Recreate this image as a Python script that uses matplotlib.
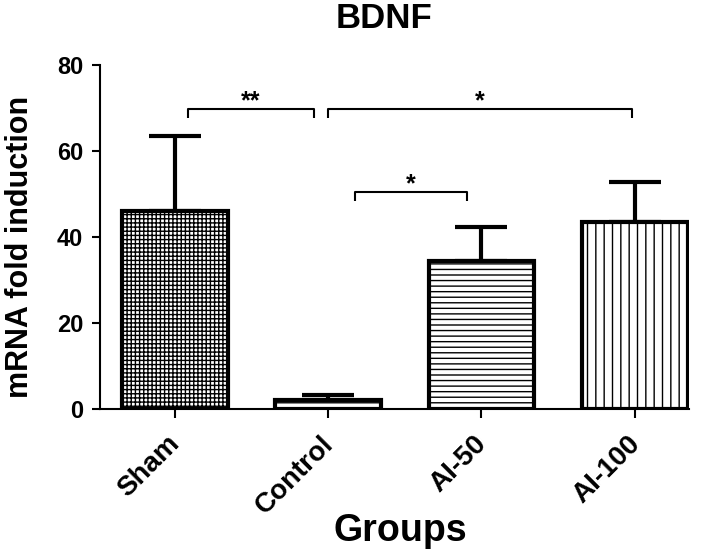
import matplotlib
matplotlib.use("Agg")
import matplotlib.pyplot as plt
import matplotlib.transforms as mtransforms
import numpy as np

plt.rcParams["font.family"] = ["Liberation Sans", "DejaVu Sans"]
plt.rcParams["font.weight"] = "bold"
plt.rcParams["hatch.linewidth"] = 1.0

groups = ["Sham", "Control", "AI-50", "AI-100"]
means = [46.0, 2.0, 34.4, 43.5]
sems = [17.5, 1.3, 7.9, 9.3]
hatches = ["++++", "---", "---", "||"]

# significance brackets: (x start, x end, height, label)
br_x0 = [0.085, 1.0, 1.174]
br_x1 = [0.907, 2.98, 1.905]
br_y = [69.8, 69.8, 50.5]
br_txt = ["**", "*", "*"]

fig = plt.figure(figsize=(7.13, 5.56), dpi=100)
ax = fig.add_axes([0.140, 0.2644, 0.826, 0.619])

x = np.arange(len(groups))
ax.bar(x, means, width=0.69, color="white", edgecolor="black", linewidth=3,
       hatch=hatches, zorder=3)
ax.errorbar(x, means, yerr=[np.zeros(len(means)), sems], fmt="none", ecolor="black",
            elinewidth=3, capsize=19, capthick=3, zorder=2)

drop = 2.1
for a, b, h, t in zip(br_x0, br_x1, br_y, br_txt):
    ax.plot([a, a, b, b], [h - drop, h, h, h - drop], color="black", lw=1.5,
            solid_capstyle="butt", clip_on=False)
    ax.text((a + b) / 2, h + 0.2, t, ha="center", va="baseline", fontsize=18)

ax.set_xlim(-0.489, 3.352)
ax.set_ylim(0, 80)
ax.set_yticks([0, 20, 40, 60, 80])
for s in ["top", "right"]:
    ax.spines[s].set_visible(False)
for s in ["left", "bottom"]:
    ax.spines[s].set_linewidth(1.5)
ax.tick_params(axis="y", length=6, width=1.5, labelsize=17, pad=6)
ax.tick_params(axis="x", length=6.5, width=1.5, labelsize=20, pad=2)
ax.set_xticks(x)
ax.set_xticklabels(groups, rotation=45, ha="right", va="top", rotation_mode="anchor")
off = mtransforms.ScaledTranslation(-8 / 100, -10 / 100, fig.dpi_scale_trans)
for lbl in ax.get_xticklabels():
    lbl.set_transform(lbl.get_transform() + off)

ax.set_ylabel("mRNA fold induction", fontsize=22, fontweight="bold")
ax.yaxis.set_label_coords(-0.135, 0.47)
ax.yaxis.label.set_va("center")
ax.set_xlabel("Groups", fontsize=27, fontweight="bold")
ax.xaxis.set_label_coords(0.51, -0.355)
ax.xaxis.label.set_va("center")
fig.text(384 / 713, 1 - 18 / 556, "BDNF", ha="center", va="center", fontsize=25,
         fontweight="bold")

fig.savefig("out.png", dpi=100)
